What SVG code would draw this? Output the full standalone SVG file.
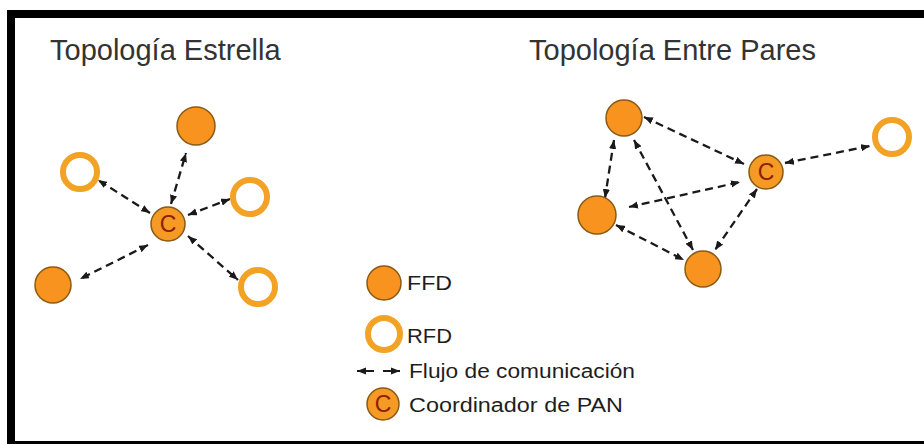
<svg xmlns="http://www.w3.org/2000/svg" width="924" height="444" viewBox="0 0 924 444">
<defs>
<marker id="ah" viewBox="0 0 10 8" refX="10" refY="4" markerWidth="9" markerHeight="7.5" markerUnits="userSpaceOnUse" orient="auto-start-reverse">
<path d="M0,0 L10,4 L0,8 Z" fill="#1a1a1a"/>
</marker>
</defs>
<style>
.ffd{fill:#F7931E;stroke:#8a5a14;stroke-width:1.5}
.rfd{fill:#ffffff;stroke:#F2A225;stroke-width:6}
.coord{fill:#F49A25;stroke:#8a5a14;stroke-width:1.5}
.cl{font-family:"Liberation Sans",Arial,sans-serif;font-size:23px;fill:#8B2200;text-anchor:middle}
.title{font-family:"Liberation Sans",Arial,sans-serif;font-size:29px;fill:#333333}
.leg{font-family:"Liberation Sans",Arial,sans-serif;font-size:20px;fill:#1e1e1e}
.edge{stroke:#1a1a1a;stroke-width:2.3;stroke-dasharray:8 5;fill:none;marker-start:url(#ah);marker-end:url(#ah)}
</style>
<rect x="0" y="0" width="924" height="444" fill="#ffffff"/>
<g id="frame" fill="#000000">
<rect x="7" y="10" width="917" height="8"/>
<rect x="7" y="10" width="8" height="434"/>
<rect x="7" y="441" width="917" height="3"/>
</g>
<text class="title" x="50" y="60">Topología Estrella</text>
<text class="title" x="529" y="60">Topología Entre Pares</text>
<g id="connectors">
<line class="edge" x1="171" y1="204" x2="186" y2="153"/>
<line class="edge" x1="150" y1="213" x2="98" y2="180"/>
<line class="edge" x1="188" y1="215" x2="230" y2="199"/>
<line class="edge" x1="148" y1="245" x2="80" y2="279"/>
<line class="edge" x1="188" y1="236" x2="238" y2="280"/>
<line class="edge" x1="644" y1="117" x2="744" y2="164"/>
<line class="edge" x1="614" y1="140" x2="605" y2="198"/>
<line class="edge" x1="634" y1="140" x2="693" y2="250"/>
<line class="edge" x1="629" y1="207" x2="740" y2="182"/>
<line class="edge" x1="757" y1="189" x2="715" y2="250"/>
<line class="edge" x1="616" y1="225" x2="684" y2="260"/>
<line class="edge" x1="785" y1="163" x2="870" y2="146"/>
</g>
<g id="star-coord"><circle class="coord" cx="168" cy="224" r="17"/><text class="cl" x="168" y="232">C</text></g>
<g id="star-ffd-top"><circle class="ffd" cx="196" cy="126" r="19"/></g>
<g id="star-rfd-left"><circle class="rfd" cx="80" cy="172" r="17"/></g>
<g id="star-rfd-right"><circle class="rfd" cx="250" cy="197" r="17"/></g>
<g id="star-ffd-bl"><circle class="ffd" cx="53" cy="285" r="18"/></g>
<g id="star-rfd-br"><circle class="rfd" cx="258" cy="287" r="17"/></g>
<g id="peer-ffd-top"><circle class="ffd" cx="624" cy="118" r="18"/></g>
<g id="peer-coord"><circle class="coord" cx="766" cy="172" r="17"/><text class="cl" x="766" y="180">C</text></g>
<g id="peer-rfd-right"><circle class="rfd" cx="892" cy="137" r="17"/></g>
<g id="peer-ffd-left"><circle class="ffd" cx="597" cy="215" r="19"/></g>
<g id="peer-ffd-bottom"><circle class="ffd" cx="703" cy="269" r="18"/></g>
<g id="legend">
<circle class="ffd" cx="384" cy="283" r="17"/>
<text class="leg" x="407" y="290" textLength="45" lengthAdjust="spacingAndGlyphs">FFD</text>
<circle class="rfd" cx="384" cy="334" r="16"/>
<text class="leg" x="407" y="343" textLength="45" lengthAdjust="spacingAndGlyphs">RFD</text>
<line x1="357" y1="371" x2="400" y2="371" stroke="#1a1a1a" stroke-width="2" stroke-dasharray="17 9" marker-start="url(#ah)" marker-end="url(#ah)"/>
<text class="leg" x="409" y="378" textLength="226" lengthAdjust="spacingAndGlyphs">Flujo de comunicación</text>
<circle class="coord" cx="383" cy="404" r="16"/>
<text class="cl" x="383" y="412">C</text>
<text class="leg" x="409" y="412" textLength="214" lengthAdjust="spacingAndGlyphs">Coordinador de PAN</text>
</g>
</svg>
